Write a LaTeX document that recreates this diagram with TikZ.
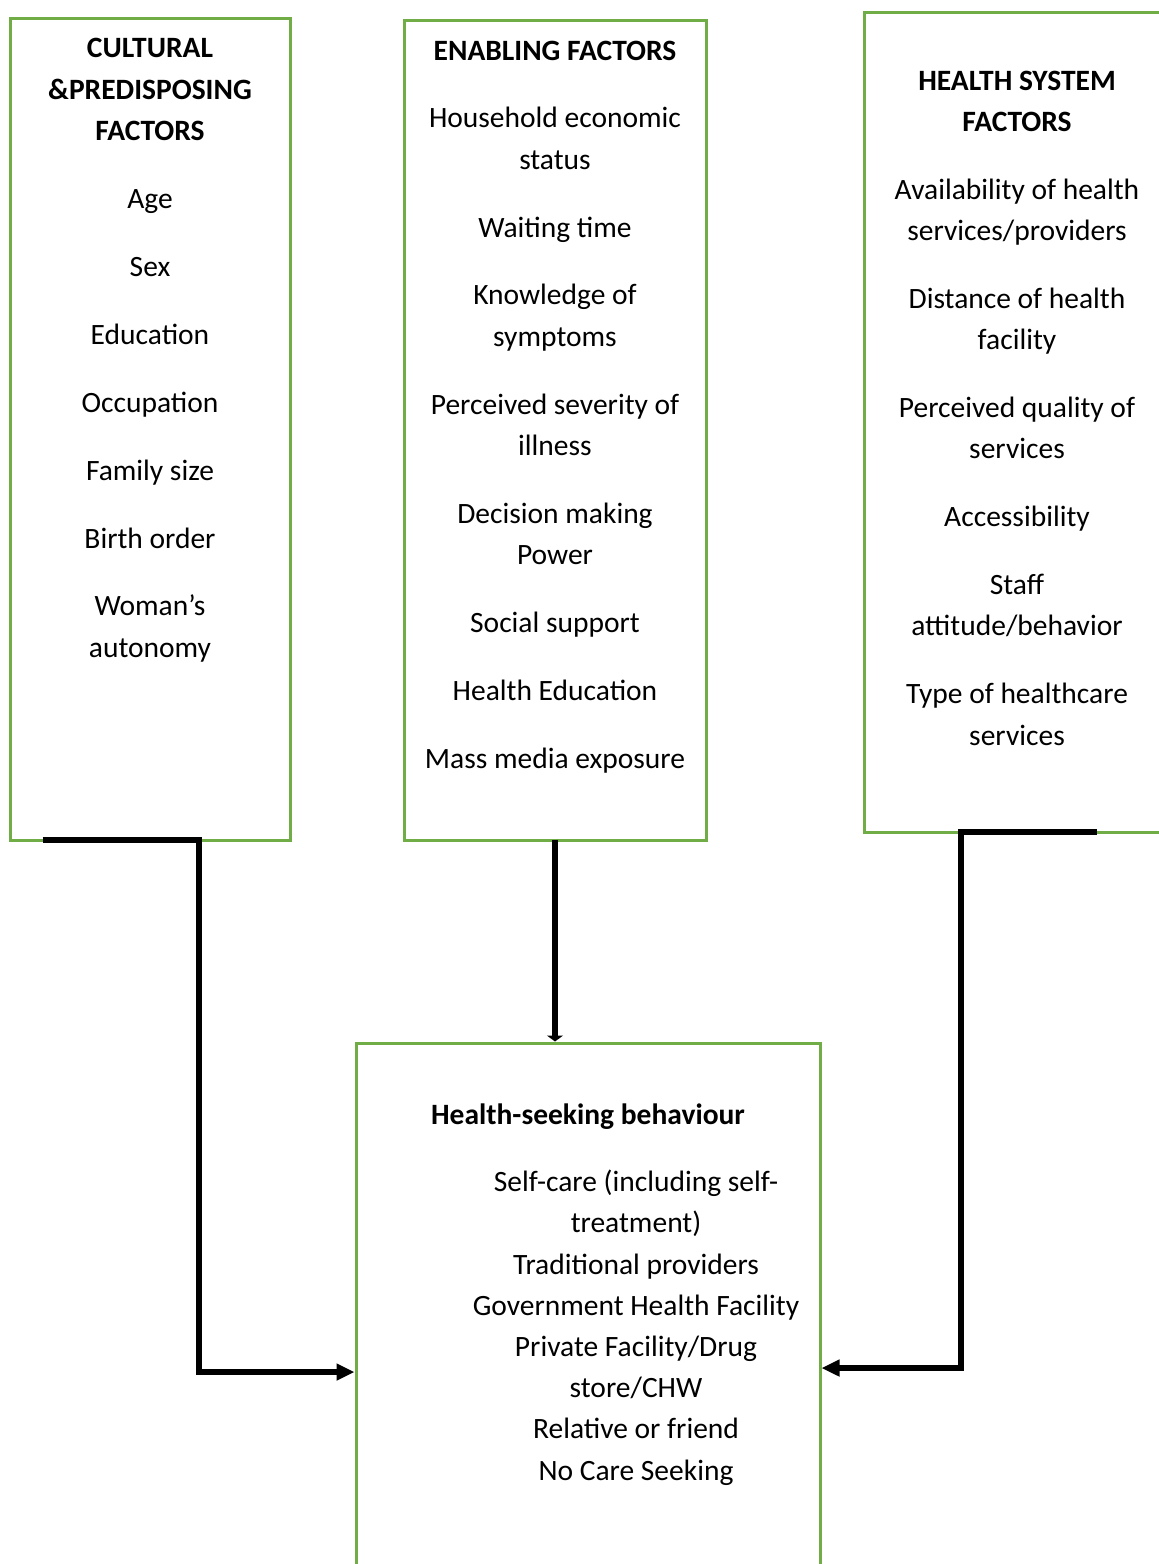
\documentclass[tikz,border=0pt]{standalone}
\usepackage{fontspec}
\setmainfont{Carlito}
\usetikzlibrary{arrows.meta,calc}
\definecolor{boxgreen}{RGB}{112,173,71}
\begin{document}
\begin{tikzpicture}[x=1pt,y=1pt,
  box/.style={draw=boxgreen,line width=3pt,minimum width=#1,inner sep=0pt},
  txt/.style={anchor=base,inner sep=0pt,yshift=-1pt,font=\fontsize{29.5}{34}\selectfont},
  hd/.style={txt,font=\fontsize{29.5}{34}\selectfont\bfseries},
  conn/.style={line width=6pt},
  tipbig/.style={-{Triangle[length=18pt,width=16pt]}},
]
\useasboundingbox (0,0) rectangle (1159,-1564);
% boxes
\node[box=280pt,minimum height=822pt] (b1) at (150,-429) {};
\node[box=302pt,minimum height=820pt] (b2) at (555,-430) {};
\node[box=306pt,minimum height=820pt] (b3) at (1017,-422) {};
\node[box=464pt,minimum height=557pt] (b4) at (588,-1321.5) {};
% box 1 text
\foreach \t/\y [count=\i] in {CULTURAL/56,{\&PREDISPOSING}/98,FACTORS/139}
  \node[hd] (h1\i) at (150,-\y) {\t};
\foreach \t/\y [count=\i] in {Age/207,Sex/275,Education/343,Occupation/411,Family size/479,Birth order/547,Woman’s/614,autonomy/656}
  \node[txt] (c1\i) at (150,-\y) {\t};
% box 2 text
\node[hd] (h21) at (555,-59) {ENABLING FACTORS};
\foreach \t/\y [count=\i] in {Household economic/126,status/168,Waiting time/236,Knowledge of/303,symptoms/345,Perceived severity of/413,illness/454,Decision making/522,Power/563,Social support/631,Health Education/699,Mass media exposure/767}
  \node[txt] (c2\i) at (555,-\y) {\t};
% box 3 text
\foreach \t/\y [count=\i] in {HEALTH SYSTEM/89,FACTORS/130}
  \node[hd] (h3\i) at (1017,-\y) {\t};
\foreach \t/\y [count=\i] in {Availability of health/198,{services/providers}/239,Distance of health/307,facility/348,Perceived quality of/416,services/457,Accessibility/525,Staff/593,{attitude/behavior}/634,Type of healthcare/702,services/744}
  \node[txt] (c3\i) at (1017,-\y) {\t};
% box 4 text
\node[hd] (h41) at (588,-1123) {Health-seeking behaviour};
\foreach \t/\y [count=\i] in {Self-care (including self-/1190,treatment)/1231,Traditional providers/1273,Government Health Facility/1314,{Private Facility/Drug}/1355,{store/CHW}/1396,Relative or friend/1437,No Care Seeking/1479}
  \node[txt] (c4\i) at (636,-\y) {\t};
% connectors
\coordinate (l0) at ($(b1.south west)+(34,2)$);
\coordinate (l1) at (199,-1372);
\draw[conn,tipbig] (l0) -| (l1) -- (l1 -| b4.west);
\coordinate (m0) at ($(b2.south)+(0,2)$);
\draw[conn,-{Triangle[length=6pt,width=16pt]}] (m0) -- (m0 |- b4.north);
\coordinate (r0) at (1097,-832);
\coordinate (r1) at (961,-1368);
\draw[conn,tipbig] (r0) -| (r1) -- (r1 -| b4.east);
\end{tikzpicture}
\end{document}
